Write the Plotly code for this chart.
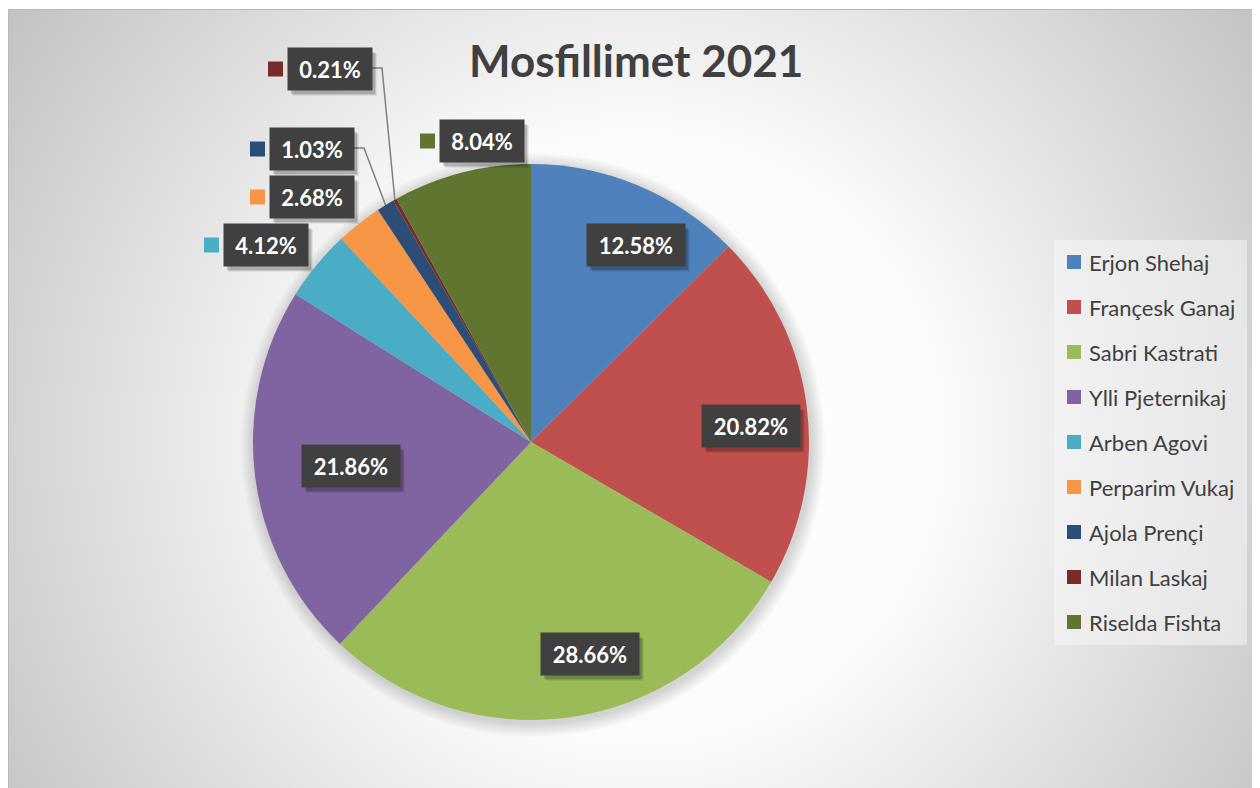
import base64
import math
import plotly.graph_objects as go

# ---------------- data ----------------
names = ["Erjon Shehaj", "Françesk Ganaj", "Sabri Kastrati", "Ylli Pjeternikaj",
         "Arben Agovi", "Perparim Vukaj", "Ajola Prençi", "Milan Laskaj", "Riselda Fishta"]
shares = [12.58, 20.82, 28.66, 21.86, 4.12, 2.68, 1.03, 0.21, 8.04]
title_text = "Mosfillimet 2021"

# ---------------- styling / layout ----------------
colors = ["#4F81BD", "#C0504D", "#9BBB59", "#8064A2", "#4BACC6",
          "#F79646", "#2C4D75", "#772C2A", "#5F7530"]
W, H = 1260, 788
OFF = 8                                  # page body margin
PCX, PCY, PR = 531, 442, 278             # pie centre / radius (page pixels)
FONT = "Lato"
TXT = "#404040"


def fx(x):
    return (x - OFF) / W


def fy(y):
    return 1 - (y - OFF) / H


# label box positions (page pixel centres) and whether they carry a colour key
label_pos = {
    "Erjon Shehaj": (636, 245, False),
    "Françesk Ganaj": (751, 426, False),
    "Sabri Kastrati": (590, 654, False),
    "Ylli Pjeternikaj": (351, 466, False),
    "Arben Agovi": (266, 245, True),
    "Perparim Vukaj": (312, 197, True),
    "Ajola Prençi": (312, 149, True),
    "Milan Laskaj": (330, 69, True),
    "Riselda Fishta": (482, 141, True),
}
leader = {"Ajola Prençi", "Milan Laskaj"}

fig = go.Figure()
fig.add_trace(go.Pie(
    labels=names, values=shares, sort=False, direction="clockwise", rotation=0,
    marker=dict(colors=colors, line=dict(width=0)),
    textinfo="none", hoverinfo="label+percent", showlegend=False,
    domain=dict(x=[fx(PCX - PR), fx(PCX + PR)], y=[fy(PCY + PR), fy(PCY - PR)]),
))

# ---------- background (radial gradient) ----------
svg = '''<svg xmlns="http://www.w3.org/2000/svg" width="1260" height="788">
<defs><radialGradient id="g" gradientUnits="userSpaceOnUse" cx="630" cy="430" r="760">
<stop offset="0" stop-color="#ffffff"/><stop offset="0.4" stop-color="#fbfbfb"/>
<stop offset="1" stop-color="#c2c2c2"/></radialGradient></defs>
<rect x="0" y="1" width="1260" height="787" fill="url(#g)"/>
<path d="M0.5,788 L0.5,1.5 L1260,1.5" fill="none" stroke="#b8b8b8" stroke-width="1"/>
</svg>'''
uri = "data:image/svg+xml;base64," + base64.b64encode(svg.encode()).decode()
images = [dict(source=uri, xref="paper", yref="paper", x=0, y=1,
               sizex=1, sizey=1, sizing="stretch",
               xanchor="left", yanchor="top", layer="below")]

shapes = []
annotations = []

# soft pie shadow
for k in range(10, 0, -1):
    rr = PR + k * 1.4
    shapes.append(dict(type="circle", xref="paper", yref="paper", layer="below",
                       x0=fx(PCX + 2 - rr), x1=fx(PCX + 2 + rr),
                       y0=fy(PCY + 3 + rr), y1=fy(PCY + 3 - rr),
                       fillcolor="rgba(0,0,0,0.014)", line=dict(width=0)))

# slice geometry from data
total = sum(shares)
cum = 0.0
edge_pt = {}
for n, v in zip(names, shares):
    mid = (cum + v / 2) / total * 2 * math.pi
    edge_pt[n] = (PCX + PR * math.sin(mid), PCY - PR * math.cos(mid))
    cum += v

LBL_FONT = 22
PAD = 8
TXT_H = 26
for n, v, c in zip(names, shares, colors):
    lx, ly, key = label_pos[n]
    txt = f"{v:.2f}%"
    tw = 82 if len(txt) >= 6 else 68
    bw, bh = tw + 2 * PAD, TXT_H + 2 * PAD
    if n in leader:
        ex, ey = edge_pt[n]
        x0 = lx + bw / 2
        shapes.append(dict(type="path", xref="paper", yref="paper",
                           path=f"M{fx(x0)},{fy(ly - 1)} L{fx(x0 + 10)},{fy(ly - 1)} L{fx(ex)},{fy(ey)}",
                           line=dict(color="#808080", width=1.5)))
    if key:
        kx = lx - bw / 2 - 5 - 7.5
        shapes.append(dict(type="rect", xref="paper", yref="paper",
                           x0=fx(kx - 7.5), x1=fx(kx + 7.5), y0=fy(ly + 7.5), y1=fy(ly - 7.5),
                           fillcolor=c, line=dict(width=0)))
    # drop shadow of the label box
    for d, a in ((5, 0.06), (4, 0.10), (3, 0.14)):
        shapes.append(dict(type="rect", xref="paper", yref="paper",
                           x0=fx(lx - bw / 2 + d), x1=fx(lx + bw / 2 + d),
                           y0=fy(ly + bh / 2 + d + 1), y1=fy(ly - bh / 2 + d + 1),
                           fillcolor=f"rgba(0,0,0,{a})", line=dict(width=0)))
    annotations.append(dict(x=fx(lx), y=fy(ly), xref="paper", yref="paper",
                            xanchor="center", yanchor="middle", width=tw, height=TXT_H,
                            text=txt, showarrow=False, bgcolor="#404040",
                            borderpad=PAD, font=dict(family=FONT, size=LBL_FONT, color="#ffffff", weight="bold")))

# title
annotations.append(dict(x=fx(636), y=fy(60), xref="paper", yref="paper", text=title_text,
                        xanchor="center", yanchor="middle",
                        showarrow=False, font=dict(family=FONT, size=44, color=TXT, weight="bold")))

# manual legend
LX0, LX1, LY0, LY1 = 1054, 1247, 240, 645
shapes.append(dict(type="rect", xref="paper", yref="paper", layer="below",
                   x0=fx(LX0), x1=fx(LX1), y0=fy(LY1), y1=fy(LY0),
                   fillcolor="rgba(245,245,245,0.55)", line=dict(width=0)))
for i, (n, c) in enumerate(zip(names, colors)):
    yy = 262 + 45 * i
    shapes.append(dict(type="rect", xref="paper", yref="paper",
                       x0=fx(1067), x1=fx(1081), y0=fy(yy + 7), y1=fy(yy - 7),
                       fillcolor=c, line=dict(width=0)))
    annotations.append(dict(x=fx(1087), y=fy(yy), xref="paper", yref="paper", text=n,
                            xanchor="left", yanchor="middle", showarrow=False,
                            font=dict(family=FONT, size=22, color=TXT)))

fig.update_layout(
    width=W, height=H, margin=dict(l=0, r=0, t=0, b=0),
    paper_bgcolor="#ffffff", plot_bgcolor="rgba(0,0,0,0)",
    images=images, shapes=shapes, annotations=annotations,
    showlegend=False,
)
fig.write_html("out.html")
